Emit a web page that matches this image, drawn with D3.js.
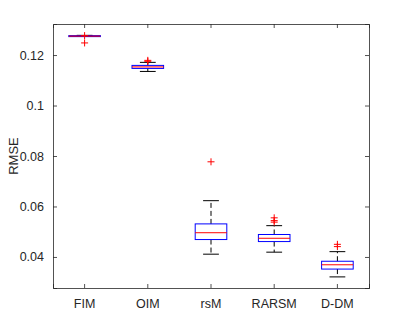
<!DOCTYPE html>
<meta charset="utf-8">
<script src="https://d3js.org/d3.v7.min.js"></script>
<style>
  body { margin: 0; background: #fff; }
  text { font-family: "Liberation Sans", Arial, sans-serif; }
</style>
<div id="my_dataviz"></div>
<script>

// categories and box stats
var methods  = ["FIM", "OIM", "rsM", "RARSM", "D-DM"];
var lowWhisk = [0.1274, 0.1135, 0.0411, 0.0419, 0.0321];
var q1       = [0.1273, 0.1147, 0.0469, 0.0461, 0.0352];
var medians  = [0.1275, 0.1153, 0.0496, 0.0474, 0.0369];
var q3       = [0.1277, 0.1159, 0.0531, 0.0489, 0.0383];
var upWhisk  = [0.1278, 0.1171, 0.0623, 0.0524, 0.0421];
var outliers = [
  [0.1277, 0.1248],
  [0.1179, 0.1175],
  [0.0777],
  [0.0555, 0.0544, 0.0538],
  [0.0450, 0.0441]
];
var yTicks = [0.04, 0.06, 0.08, 0.1, 0.12];

var margin = {top: 24, right: 38, bottom: 36, left: 53},
    width = 407 - margin.left - margin.right,
    height = 324 - margin.top - margin.bottom;

var svg = d3.select("#my_dataviz")
  .append("svg")
    .attr("width", 407)
    .attr("height", 324)
  .append("g")
    .attr("transform", "translate(" + margin.left + "," + margin.top + ")");

var x = d3.scaleBand()
  .range([0, width])
  .domain(methods);

var y = d3.scaleLinear()
  .domain([0.0277, 0.1323])
  .range([height, 0]);

var axisColor = "#262626";

// axes, MATLAB style: ticks inside, box all round
svg.append("g")
  .attr("transform", "translate(0," + height + ")")
  .call(d3.axisBottom(x).tickSize(-4).tickPadding(11))
  .call(function(g) { g.selectAll("text").attr("font-size", "12.5px").attr("fill", axisColor); });
svg.append("g")
  .call(d3.axisTop(x).tickSize(-4).tickFormat(""));
svg.append("g")
  .call(d3.axisLeft(y).tickValues(yTicks).tickSize(-4).tickPadding(9).tickFormat(d3.format("")))
  .call(function(g) { g.selectAll("text").attr("font-size", "12.5px").attr("fill", axisColor); });
svg.append("g")
  .attr("transform", "translate(" + width + ",0)")
  .call(d3.axisRight(y).tickValues(yTicks).tickSize(-4).tickFormat(""));
svg.selectAll(".domain, .tick line").attr("stroke", axisColor).attr("stroke-width", 0.8);

svg.append("text")
  .attr("transform", "translate(-35," + height / 2 + ") rotate(-90)")
  .attr("text-anchor", "middle")
  .attr("font-size", "13px")
  .attr("fill", axisColor)
  .text("RMSE");

// boxes
var bw = x.bandwidth() / 2;
var capW = bw / 2;
var boxes = svg.selectAll(".box")
  .data(methods)
  .enter()
  .append("g")
    .attr("transform", function(d) { return "translate(" + (x(d) + x.bandwidth() / 2) + ",0)"; });

// dashed whiskers
boxes.append("line")
  .attr("y1", function(d, i) { return y(q3[i]); })
  .attr("y2", function(d, i) { return y(upWhisk[i]); })
  .attr("stroke", "#000").attr("stroke-dasharray", "5,3");
boxes.append("line")
  .attr("y1", function(d, i) { return y(q1[i]); })
  .attr("y2", function(d, i) { return y(lowWhisk[i]); })
  .attr("stroke", "#000").attr("stroke-dasharray", "5,3");
// caps
boxes.append("line")
  .attr("x1", -capW / 2).attr("x2", capW / 2)
  .attr("y1", function(d, i) { return y(upWhisk[i]); })
  .attr("y2", function(d, i) { return y(upWhisk[i]); })
  .attr("stroke", "#000");
boxes.append("line")
  .attr("x1", -capW / 2).attr("x2", capW / 2)
  .attr("y1", function(d, i) { return y(lowWhisk[i]); })
  .attr("y2", function(d, i) { return y(lowWhisk[i]); })
  .attr("stroke", "#000");
// box
boxes.append("rect")
  .attr("x", -bw / 2)
  .attr("width", bw)
  .attr("y", function(d, i) { return y(q3[i]); })
  .attr("height", function(d, i) { return y(q1[i]) - y(q3[i]); })
  .attr("fill", "none")
  .attr("stroke", "#0000ff");
// median
boxes.append("line")
  .attr("x1", -bw / 2).attr("x2", bw / 2)
  .attr("y1", function(d, i) { return y(medians[i]); })
  .attr("y2", function(d, i) { return y(medians[i]); })
  .attr("stroke", "#ff0000");
// outliers
boxes.each(function(d, i) {
  var s = 3.5;
  d3.select(this).selectAll(".out")
    .data(outliers[i])
    .enter()
    .append("path")
      .attr("d", function(v) {
        var cy = y(v);
        return "M" + (-s) + "," + cy + "H" + s + "M0," + (cy - s) + "V" + (cy + s);
      })
      .attr("stroke", "#ff0000")
      .attr("fill", "none");
});

</script>
